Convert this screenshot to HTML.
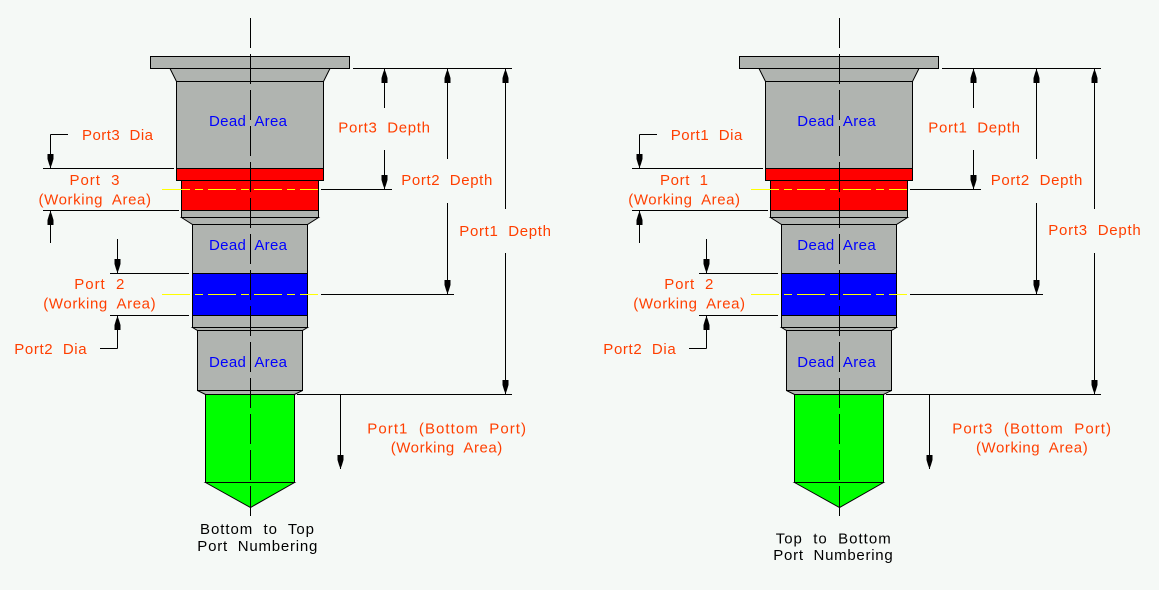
<!DOCTYPE html>
<html>
<head>
<meta charset="utf-8">
<style>
  html, body { margin: 0; padding: 0; background: #f5f9f6; }
  svg { display: block; }
  text { font-family: "Liberation Sans", "DejaVu Sans", sans-serif; font-size: 15px; white-space: pre; }
  .o { fill: #ff3f00; }
  .b { fill: #0000ff; }
  .k { fill: #000000; }
</style>
</head>
<body>
<svg width="1159" height="590" viewBox="0 0 1159 590" xmlns="http://www.w3.org/2000/svg">
  <rect x="0" y="0" width="1159" height="590" fill="#f5f9f6"/>
  <defs>
    <g id="tool">
      <!-- shapes -->
      <g stroke="#000" stroke-width="1" fill="#b0b4b0">
        <rect x="150.5" y="56.5" width="199" height="12"/>
        <polygon points="170,68.5 176.5,81.5 323.5,81.5 330,68.5"/>
        <rect x="176.5" y="81.5" width="147" height="87"/>
        <rect x="176.5" y="168.5" width="147" height="12" fill="#ff0000"/>
        <rect x="181.5" y="180.5" width="137" height="30" fill="#ff0000"/>
        <rect x="181.5" y="210.5" width="137" height="7"/>
        <polygon points="181.5,217.5 192.5,224.5 307.5,224.5 318.5,217.5"/>
        <rect x="192.5" y="224.5" width="115" height="103"/>
        <rect x="192.5" y="273.5" width="115" height="42" fill="#0000ff"/>
        <polygon points="192.5,327.5 197.5,330.5 302.5,330.5 307.5,327.5"/>
        <rect x="197.5" y="330.5" width="105" height="60"/>
        <polygon points="197.5,390.5 205.5,394.5 294.5,394.5 302.5,390.5"/>
        <rect x="205.5" y="394.5" width="89" height="88" fill="#00ff00"/>
        <polygon points="205.5,482.5 250.5,507.5 294.5,482.5" fill="#00ff00"/>
      </g>
      <!-- yellow dashed lines -->
      <line x1="162" y1="189.5" x2="318" y2="189.5" stroke="#ffff00" stroke-width="1" stroke-dasharray="28 5 8 5"/>
      <line x1="162" y1="294.5" x2="318" y2="294.5" stroke="#ffff00" stroke-width="1" stroke-dasharray="28 5 8 5"/>
      <!-- centerline -->
      <line x1="250.5" y1="18" x2="250.5" y2="522" stroke="#000" stroke-width="1" stroke-dasharray="30 6"/>
      <!-- dimension / extension lines -->
      <g stroke="#000" stroke-width="1" fill="none">
        <!-- top extension -->
        <line x1="353" y1="68.5" x2="512" y2="68.5"/>
        <!-- depth 1 (short) -->
        <line x1="384.5" y1="68.5" x2="384.5" y2="108"/>
        <line x1="384.5" y1="150" x2="384.5" y2="189"/>
        <line x1="321" y1="189.5" x2="392" y2="189.5"/>
        <!-- depth 2 -->
        <line x1="447.5" y1="68.5" x2="447.5" y2="159"/>
        <line x1="447.5" y1="203" x2="447.5" y2="294"/>
        <line x1="321" y1="294.5" x2="454" y2="294.5"/>
        <!-- depth 3 -->
        <line x1="505.5" y1="68.5" x2="505.5" y2="209"/>
        <line x1="505.5" y1="253" x2="505.5" y2="394"/>
        <line x1="297" y1="394.5" x2="512" y2="394.5"/>
        <!-- bottom port leader -->
        <line x1="340.5" y1="394.5" x2="340.5" y2="469"/>
        <!-- top port dia -->
        <line x1="50.5" y1="134.5" x2="68" y2="134.5"/>
        <line x1="50.5" y1="134.5" x2="50.5" y2="168"/>
        <line x1="43" y1="168.5" x2="174" y2="168.5"/>
        <line x1="43" y1="210.5" x2="179" y2="210.5"/>
        <line x1="50.5" y1="211" x2="50.5" y2="243"/>
        <!-- port 2 dia -->
        <line x1="117.5" y1="239" x2="117.5" y2="273"/>
        <line x1="110" y1="273.5" x2="189" y2="273.5"/>
        <line x1="110" y1="315.5" x2="189" y2="315.5"/>
        <line x1="117.5" y1="316" x2="117.5" y2="348.5"/>
        <line x1="100" y1="348.5" x2="117.5" y2="348.5"/>
      </g>
      <!-- arrowheads -->
      <g fill="#000" stroke="none">
        <!-- down arrows -->
        <path d="M50.5 168 l-1.5 -4 l-1.5 -5 v-5 h6 v5 l-1.5 5 z"/>
        <path d="M117.5 273 l-1.5 -4 l-1.5 -5 v-5 h6 v5 l-1.5 5 z"/>
        <path d="M384.5 189 l-1.5 -4 l-1.5 -5 v-5 h6 v5 l-1.5 5 z"/>
        <path d="M447.5 294 l-1.5 -4 l-1.5 -5 v-5 h6 v5 l-1.5 5 z"/>
        <path d="M505.5 394 l-1.5 -4 l-1.5 -5 v-5 h6 v5 l-1.5 5 z"/>
        <path d="M340.5 469 l-1.5 -4 l-1.5 -5 v-5 h6 v5 l-1.5 5 z"/>
        <!-- up arrows -->
        <path d="M50.5 211 l-1.5 4 l-1.5 5 v5 h6 v-5 l-1.5 -5 z"/>
        <path d="M117.5 316 l-1.5 4 l-1.5 5 v5 h6 v-5 l-1.5 -5 z"/>
        <path d="M384.5 69 l-1.5 4 l-1.5 5 v5 h6 v-5 l-1.5 -5 z"/>
        <path d="M447.5 69 l-1.5 4 l-1.5 5 v5 h6 v-5 l-1.5 -5 z"/>
        <path d="M505.5 69 l-1.5 4 l-1.5 5 v5 h6 v-5 l-1.5 -5 z"/>
      </g>
    </g>
  </defs>

  <use href="#tool" x="0" y="0"/>
  <use href="#tool" x="589" y="0"/>

  <!-- LEFT texts -->
  <text class="b" x="209" y="126" textLength="78" lengthAdjust="spacing" xml:space="preserve">Dead  Area</text>
  <text class="b" x="209" y="250" textLength="78" lengthAdjust="spacing" xml:space="preserve">Dead  Area</text>
  <text class="b" x="209" y="367" textLength="78" lengthAdjust="spacing" xml:space="preserve">Dead  Area</text>

  <text class="o" x="82" y="140" textLength="71" lengthAdjust="spacing" xml:space="preserve">Port3  Dia</text>
  <text class="o" x="69.5" y="185" textLength="50" lengthAdjust="spacing" xml:space="preserve">Port  3</text>
  <text class="o" x="38.5" y="204.3" textLength="112.5" lengthAdjust="spacing" xml:space="preserve">(Working  Area)</text>
  <text class="o" x="74.3" y="289" textLength="50" lengthAdjust="spacing" xml:space="preserve">Port  2</text>
  <text class="o" x="43.3" y="308.3" textLength="112.3" lengthAdjust="spacing" xml:space="preserve">(Working  Area)</text>
  <text class="o" x="14.3" y="354" textLength="72.3" lengthAdjust="spacing" xml:space="preserve">Port2  Dia</text>

  <text class="o" x="338.3" y="132.7" textLength="91.7" lengthAdjust="spacing" xml:space="preserve">Port3  Depth</text>
  <text class="o" x="401.3" y="185" textLength="91" lengthAdjust="spacing" xml:space="preserve">Port2  Depth</text>
  <text class="o" x="459.3" y="236" textLength="91.7" lengthAdjust="spacing" xml:space="preserve">Port1  Depth</text>
  <text class="o" x="367.3" y="433.3" textLength="158.7" lengthAdjust="spacing" xml:space="preserve">Port1  (Bottom  Port)</text>
  <text class="o" x="390.7" y="452.3" textLength="111.6" lengthAdjust="spacing" xml:space="preserve">(Working  Area)</text>

  <text class="k" x="200" y="534" textLength="114" lengthAdjust="spacing" xml:space="preserve">Bottom  to  Top</text>
  <text class="k" x="197.3" y="551" textLength="120" lengthAdjust="spacing" xml:space="preserve">Port  Numbering</text>

  <!-- RIGHT texts -->
  <text class="b" x="797.3" y="126" textLength="78.4" lengthAdjust="spacing" xml:space="preserve">Dead  Area</text>
  <text class="b" x="797.3" y="250" textLength="78.4" lengthAdjust="spacing" xml:space="preserve">Dead  Area</text>
  <text class="b" x="797.3" y="367" textLength="78.4" lengthAdjust="spacing" xml:space="preserve">Dead  Area</text>

  <text class="o" x="670.7" y="140" textLength="71.6" lengthAdjust="spacing" xml:space="preserve">Port1  Dia</text>
  <text class="o" x="660" y="185" textLength="48" lengthAdjust="spacing" xml:space="preserve">Port  1</text>
  <text class="o" x="628.3" y="204.3" textLength="111.7" lengthAdjust="spacing" xml:space="preserve">(Working  Area)</text>
  <text class="o" x="664.3" y="289" textLength="49" lengthAdjust="spacing" xml:space="preserve">Port  2</text>
  <text class="o" x="633.3" y="308.3" textLength="111.7" lengthAdjust="spacing" xml:space="preserve">(Working  Area)</text>
  <text class="o" x="603.3" y="354" textLength="72.4" lengthAdjust="spacing" xml:space="preserve">Port2  Dia</text>

  <text class="o" x="928.3" y="132.7" textLength="91.7" lengthAdjust="spacing" xml:space="preserve">Port1  Depth</text>
  <text class="o" x="990.7" y="185" textLength="91.6" lengthAdjust="spacing" xml:space="preserve">Port2  Depth</text>
  <text class="o" x="1048.3" y="235" textLength="92.4" lengthAdjust="spacing" xml:space="preserve">Port3  Depth</text>
  <text class="o" x="952.3" y="433.3" textLength="158.7" lengthAdjust="spacing" xml:space="preserve">Port3  (Bottom  Port)</text>
  <text class="o" x="976" y="452.3" textLength="111.7" lengthAdjust="spacing" xml:space="preserve">(Working  Area)</text>

  <text class="k" x="775.7" y="543.3" textLength="115" lengthAdjust="spacing" xml:space="preserve">Top  to  Bottom</text>
  <text class="k" x="773.3" y="560" textLength="119.4" lengthAdjust="spacing" xml:space="preserve">Port  Numbering</text>
</svg>
</body>
</html>
